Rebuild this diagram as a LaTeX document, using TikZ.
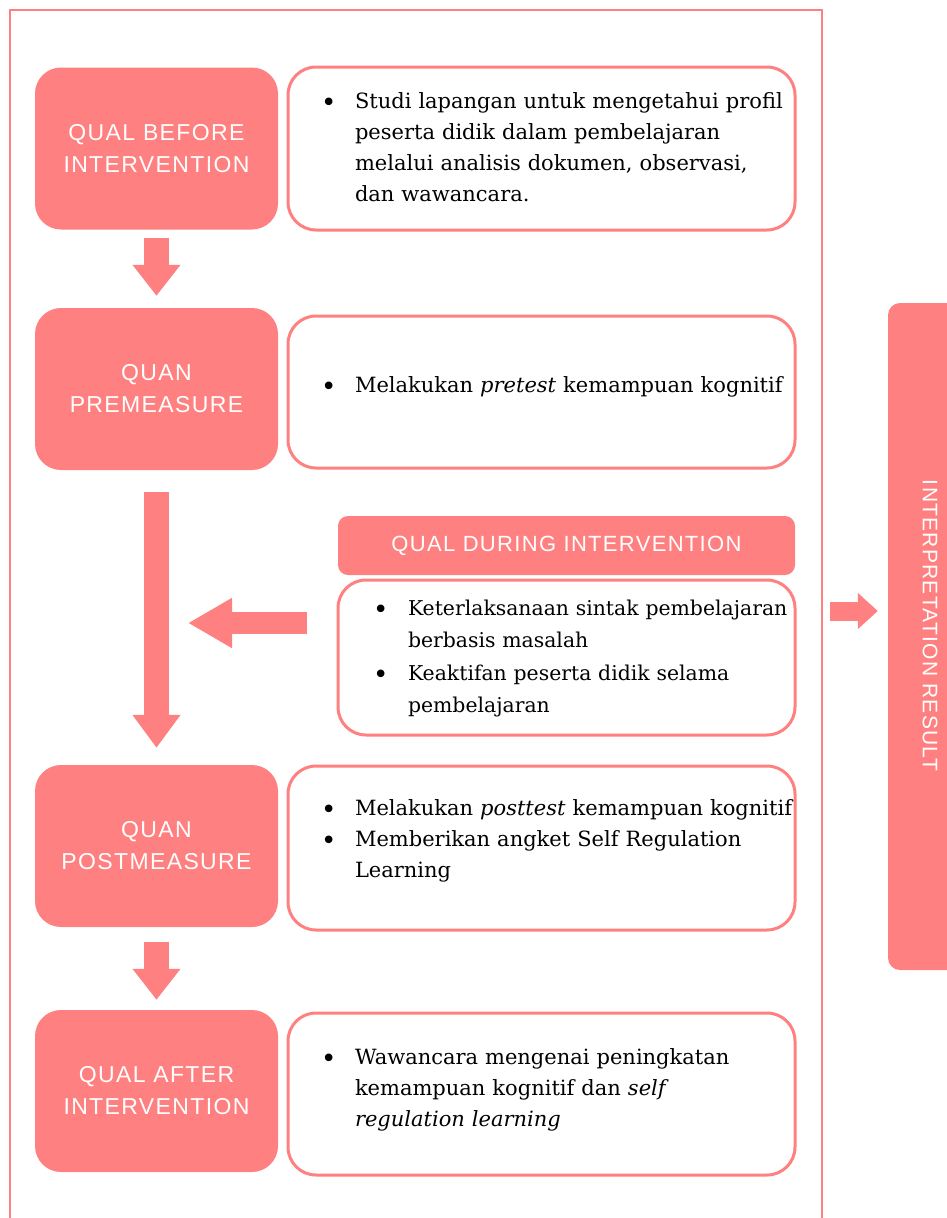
\documentclass[tikz,border=0pt]{standalone}
\usepackage{fontspec}
\setmainfont{DejaVu Serif}
\newfontfamily\capsfont[LetterSpace=6]{Liberation Sans}
\usetikzlibrary{arrows.meta}
\newcommand{\bul}{\hspace*{-5pt}\raisebox{-3pt}{\fontsize{26}{26}\selectfont\textbullet}}

\begin{document}
\begin{tikzpicture}[x=1pt,y=-1pt,
  stage/.style={fill=c1, rounded corners=26pt, minimum width=243pt,
    minimum height=162pt, inner sep=0pt, align=center, text=white,
    font=\capsfont\fontsize{23}{32}\selectfont},
  info/.style={draw=c1, line width=3pt, fill=white, rounded corners=28pt,
    text width=431pt, inner xsep=38pt, inner ysep=0pt, align=left,
    font=\fontsize{21}{31}\selectfont},
  flow/.style={c1, line width=25pt, -{Triangle[width=46pt,length=31pt]}}]
\definecolor{c1}{RGB}{255,128,128}
\useasboundingbox (0,0) rectangle (947,1218);
\draw[c1, line width=1.5pt] (10,1230) -- (10,10) -- (822,10) -- (822,1230);
% stages
\node[stage] (b1) at (156.5,148.5) {QUAL BEFORE\\INTERVENTION};
\node[stage] (b2) at (156.5,389) {QUAN\\PREMEASURE};
\node[stage] (b3) at (156.5,846) {QUAN\\POSTMEASURE};
\node[stage] (b4) at (156.5,1091) {QUAL AFTER\\INTERVENTION};
% activities
\node[info, minimum height=163pt] (i1) at (541.5,148.5) {\noindent
  \begin{tabular}{@{}p{29pt}@{}l@{}}
  \bul & Studi lapangan untuk mengetahui profil\\
  & peserta didik dalam pembelajaran\\
  & melalui analisis dokumen, observasi,\\
  & dan wawancara.
  \end{tabular}};
\node[info, minimum height=152pt] (i2) at (541.5,392) {\noindent
  \begin{tabular}{@{}p{29pt}@{}l@{}}
  \bul & Melakukan \textit{pretest} kemampuan kognitif\\[12pt]
  \end{tabular}};
\node[fill=c1, rounded corners=10pt, minimum width=457pt, minimum height=59pt,
  text=white, font=\capsfont\fontsize{22}{26}\selectfont] (head) at (566.5,545.5)
  {QUAL DURING INTERVENTION};
\node[info, text width=377pt, inner xsep=40pt, minimum height=155pt,
  font=\fontsize{20.4}{32.5}\selectfont] (dur) at (566.5,657.5) {\noindent
  \begin{tabular}{@{}p{30pt}@{}l@{}}
  \bul & Keterlaksanaan sintak pembelajaran\\
  & berbasis masalah\\
  \bul & Keaktifan peserta didik selama\\
  & pembelajaran
  \end{tabular}};
\node[info, minimum height=164pt] (i3) at (541.5,848) {\noindent
  \begin{tabular}{@{}p{29pt}@{}l@{}}
  \bul & Melakukan \textit{posttest} kemampuan kognitif\\
  \bul & Memberikan angket Self Regulation\\
  & Learning\\[16pt]
  \end{tabular}};
\node[info, minimum height=162pt] (i4) at (541.5,1094) {\noindent
  \begin{tabular}{@{}p{29pt}@{}l@{}}
  \bul & Wawancara mengenai peningkatan\\
  & kemampuan kognitif dan \textit{self}\\
  & \textit{regulation learning}\\[10pt]
  \end{tabular}};
\node[fill=c1, rounded corners=12pt, rotate=-90, minimum width=667pt,
  minimum height=84pt, text=white, font=\capsfont\fontsize{21}{26}\selectfont]
  (interp) at (930,636.5) {INTERPRETATION RESULT\hspace*{22pt}};
% arrows
\coordinate (ltip) at (188,623);
\coordinate (rstart) at (830,611);
\draw[flow, shorten <=8pt, shorten >=12pt] (b1.south) -- (b2.north);
\draw[flow, shorten <=22pt, shorten >=17pt, -{Triangle[width=46pt,length=33pt]}] (b2.south) -- (b3.north);
\draw[flow, shorten <=15pt, shorten >=10pt] (b3.south) -- (b4.north);
\draw[c1, line width=22pt, -{Triangle[width=47pt,length=44pt]}, shorten <=30pt] (dur.west |- ltip) -- (ltip);
\draw[c1, line width=19pt, -{Triangle[width=35pt,length=20pt]}, shorten >=10pt] (rstart) -- (interp.south |- rstart);
\end{tikzpicture}
\end{document}
